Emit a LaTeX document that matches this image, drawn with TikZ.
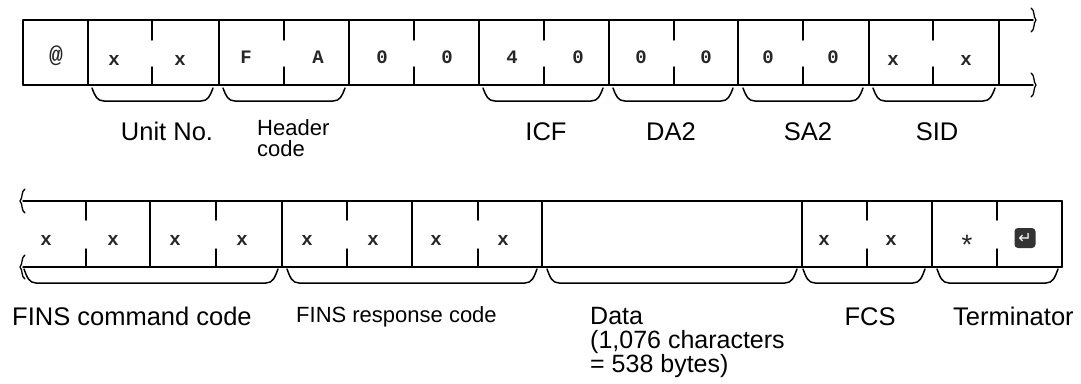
\documentclass[tikz,border=0pt]{standalone}
\usepackage{fontspec}
\setmainfont{Liberation Sans}
\setmonofont{Liberation Mono}
\newfontfamily\symfont{DejaVu Sans}
\begin{document}
\begin{tikzpicture}[x=1pt,y=-1pt,
  frame/.style={line width=1.5pt,line cap=round},
  brc/.style={line width=1.5pt,line join=round,line cap=round},
  brkmark/.style={line width=1.3pt,line cap=round},
  cell/.style={font=\ttfamily\bfseries\fontsize{19}{19}\selectfont,inner sep=0pt,text=black!85},
  lbl/.style={font=\fontsize{25.5}{22}\selectfont,inner sep=0pt},
  slbl/.style={font=\fontsize{22}{21}\selectfont,inner sep=0pt}]
\useasboundingbox (0,0) rectangle (1081,383);
% ---------- top row ----------
\draw[frame] (23,20) -- (1033,20);
\draw[frame] (23,85) -- (1033,85);
\foreach \x in {23,88,219,349,479,609,738,869,999}
  \draw[frame] (\x,20) -- (\x,85);
\foreach \x in {152,284,414,544,674,803,933}
  {\draw[frame] (\x,20) -- (\x,40); \draw[frame] (\x,67) -- (\x,85);}
% break marks right
\foreach \y in {20,85}
  \draw[brkmark] (1031,\y-12) .. controls (1035,\y-10) and (1033,\y-3) .. (1036,\y)
                 .. controls (1033,\y+3) and (1035,\y+10) .. (1031,\y+12);
% top braces
\foreach \a/\b in {92/213,223/345,483/603,613/733,743/863,873/995}
  \draw[brc] (\a,88) .. controls (\a+3,96) and (\a+5,101) .. (\a+12,101)
             -- (\b-12,101) .. controls (\b-5,101) and (\b-3,96) .. (\b,88);
% top cells
\node[cell,font=\ttfamily\bfseries\fontsize{23}{23}\selectfont] (c1) at (56,56) {@};
\node[cell] (c2) at (114,60) {x};
\node[cell] (c3) at (180,60) {x};
\node[cell] (c4) at (246,57) {F};
\node[cell] (c5) at (318,57) {A};
\node[cell] (c6) at (382,57) {0};
\node[cell] (c7) at (447,57) {0};
\node[cell] (c8) at (512,57) {4};
\node[cell] (c9) at (578,57) {0};
\node[cell] (c10) at (641,57) {0};
\node[cell] (c11) at (706,57) {0};
\node[cell] (c12) at (768,57) {0};
\node[cell] (c13) at (833,57) {0};
\node[cell] (c14) at (893,60) {x};
\node[cell] (c15) at (966,60) {x};
% top labels
\node[lbl,anchor=base] (unitno) at (167,140) {Unit No.};
\node[slbl,anchor=north west,align=left] (hdr) at (257,119) {Header\\code};
\node[lbl,anchor=base] (icf) at (546,140) {ICF};
\node[lbl,anchor=base] (da2) at (671,140) {DA2};
\node[lbl,anchor=base] (sa2) at (808,140) {SA2};
\node[lbl,anchor=base] (sid) at (937,140) {SID};
% ---------- bottom row ----------
\draw[frame] (23,201) -- (1062,201);
\draw[frame] (23,267) -- (1062,267);
\foreach \x in {150,282,412,542,802,932,1062}
  \draw[frame] (\x,201) -- (\x,267);
\foreach \x in {86,216,347,478,867,997}
  {\draw[frame] (\x,201) -- (\x,220); \draw[frame] (\x,249) -- (\x,267);}
% break marks left
\foreach \y in {201,267}
  \draw[brkmark] (25,\y-12) .. controls (21,\y-10) and (23,\y-3) .. (20,\y)
                 .. controls (23,\y+3) and (21,\y+10) .. (25,\y+12);
% bottom braces
\foreach \a/\b in {24/278,287/537,547/797,803/925,937/1058}
  \draw[brc] (\a,269) .. controls (\a+3,277) and (\a+5,283) .. (\a+12,283)
             -- (\b-12,283) .. controls (\b-5,283) and (\b-3,277) .. (\b,269);
% bottom cells
\node[cell] (d1) at (46,240) {x};
\node[cell] (d2) at (113,240) {x};
\node[cell] (d3) at (175,240) {x};
\node[cell] (d4) at (242,240) {x};
\node[cell] (d5) at (307,240) {x};
\node[cell] (d6) at (373,240) {x};
\node[cell] (d7) at (436,240) {x};
\node[cell] (d8) at (503,240) {x};
\node[cell] (d9) at (824,240) {x};
\node[cell] (d10) at (891,240) {x};
\node[cell,font=\ttfamily\fontsize{28}{28}\selectfont] (d11) at (967,245) {*};
\node[fill=black!80,rounded corners=3.5pt,minimum width=21pt,minimum height=20pt,
      inner sep=0pt,text=white,font=\symfont\fontsize{16}{16}\selectfont]
      (enter) at (1025,238) {↵};
% bottom labels
\node[lbl,anchor=base west] (fcmd) at (12,325) {FINS command code};
\node[slbl,anchor=base west] (fresp) at (296,322) {FINS response code};
\node[font=\fontsize{25}{24}\selectfont,inner sep=0pt,anchor=north west,align=left]
  (data) at (590,307) {Data\\(1,076 characters\\= 538 bytes)};
\node[lbl,anchor=base] (fcs) at (870,325) {FCS};
\node[lbl,anchor=base west] (term) at (953,325) {Terminator};
\end{tikzpicture}
\end{document}
